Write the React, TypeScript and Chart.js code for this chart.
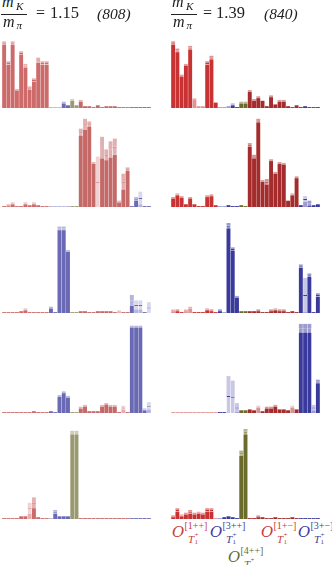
import React, { useEffect, useRef } from "react";
import { Chart, registerables } from "chart.js";
Chart.register(...registerables);

// operator groups of the T1+ basis
const operatorGroups = ["1++", "3++", "4++", "1+-", "3+-"];
const groupSizes = [11, 5, 2, 12, 5];
const categories: string[] = [];
const groupOf: number[] = [];
operatorGroups.forEach((g, gi) => {
  for (let i = 0; i < groupSizes[gi]; i++) {
    categories.push(`${g} #${i + 1}`);
    groupOf.push(gi);
  }
});

// overlap values (0-100 scale), errors and faded bars, per state (row) and ensemble
const L1 = [72,50,72,20,61,47,22,31,53,50,50, 1,1,1,6,3, 9,3, 8,2,2,1,3,1,2,2,2,1,1,1, 1,1,1,1,1];
const L1e = [2,2,2,1,2,2,2,2,3,2,2, 0,0,0,1,0, 1,0, 1,0,0,0,0,0,0,0,0,0,0,0, 0,0,0,0,0];
const L1f: number[] = [11,12,13];
const R1 = [72,64,36,48,67,10,2,2,50,56,6, 1,1,2,4,1, 6,6, 19,9,12,8,2,13,4,8,8,2,1,3, 1,2,1,1,1];
const R1e = [2,2,1,1,2,1,0,0,2,2,0, 0,0,0,1,0, 1,1, 1,1,1,0,0,1,0,1,1,0,0,0, 0,0,0,0,0];
const R1f = [5,6,7,11,12,13];

const L2 = [1,2,4,1,1,4,2,4,2,1,1, 1,1,1,1,1, 1,1, 83,92,92,49,28,66,58,64,67,6,28,42, 1,9,10,1,1];
const L2e = [0,1,1,0,0,1,0,1,0,0,0, 0,0,0,0,0, 0,0, 4,6,3,1,28,12,6,9,9,1,9,2, 0,2,7,0,0];
const L2f = [11,12,13,14,15,22,32];
const R2 = [10,14,11,3,10,3,1,1,12,13,2, 1,1,2,1,1, 2,1, 69,56,96,29,28,52,38,49,48,7,14,33, 2,9,4,2,3];
const R2e = [1,1,1,0,1,0,0,0,1,1,0, 0,0,0,0,0, 0,0, 2,2,2,1,3,1,1,1,1,0,1,1, 0,3,3,0,0];
const R2f = [11,12,31];

const L3 = [1,1,1,1,2,4,1,1,1,1,1, 6,1,94,94,69, 1,1, 2,2,1,1,2,2,2,2,1,2,1,1, 14,9,9,1,6];
const L3e = [0,0,0,0,0,1,0,0,0,0,0, 1,0,2,2,1, 0,0, 0,0,0,0,0,0,0,0,0,1,0,0, 6,5,5,0,6];
const L3f = [27,31,32,34];
const R3 = [3,3,1,3,6,1,1,1,4,3,1, 3,1,97,71,18, 2,2, 2,2,3,1,1,3,4,3,3,1,2,1, 52,20,42,1,20];
const R3e = [1,1,0,1,1,0,0,0,1,1,0, 1,0,3,2,1, 0,0, 0,0,1,0,0,1,1,1,1,0,0,0, 2,19,2,0,2];
const R3f = [0,3,4,12,31];

const L4 = [1,1,1,1,1,1,1,2,1,1,1, 2,1,19,23,18, 1,1, 6,8,2,2,2,8,10,8,8,1,6,1, 96,96,96,4,8];
const L4e = [0,0,0,0,0,0,0,0,0,0,0, 0,0,1,1,1, 0,0, 1,1,0,0,0,1,1,1,1,0,2,0, 1,1,1,1,4];
const L4f = [28,34];
const R4 = [1,1,1,1,1,1,1,1,1,1,1, 1,1,19,18,6, 3,3, 4,3,7,2,6,6,8,4,4,3,7,4, 94,94,94,6,35];
const R4e = [0,0,0,0,0,0,0,0,0,0,0, 0,0,22,18,5, 0,0, 0,0,1,0,1,1,1,0,0,0,1,0, 5,5,5,3,2];
const R4f = [0,1,2,3,4,5,6,7,8,9,10,13,14,15,20,28,33];

const L5 = [1,1,1,1,3,3,12,18,2,1,1, 1,8,3,3,3, 96,96, 1,1,1,1,1,1,1,1,1,1,1,1, 1,1,1,1,1];
const L5e = [0,0,0,0,0,0,6,6,0,0,0, 0,2,0,0,0, 2,2, 0,0,0,0,0,0,0,0,0,0,0,0, 0,0,0,0,0];
const L5f = [6,11];
const R5 = [3,10,4,6,8,6,7,6,10,10,1, 1,2,3,2,1, 73,97, 1,1,3,2,1,1,2,1,1,1,2,1, 1,1,1,1,1];
const R5e = [1,2,1,1,2,1,1,1,2,2,0, 0,0,0,0,0, 3,3, 0,0,1,0,0,0,0,0,0,0,0,0, 0,0,0,0,0];
const R5f = [10,11];

type Palette = { solid: string[]; light: string[]; lighter: string[] };
const pal808: Palette = {
  solid: ["#cd6a6a", "#6a6ab4", "#9a9a72", "#c46868", "#6a6ab4"],
  light: ["#e6b0b0", "#b4b4dc", "#cdcdb4", "#e2b0b0", "#b4b4dc"],
  lighter: ["#f2d4d4", "#d8d8ee", "#e4e4d6", "#f0d2d2", "#d8d8ee"],
};
const pal840: Palette = {
  solid: ["#c83232", "#3a3a9c", "#6b6b2c", "#a52c2c", "#3a3a9c"],
  light: ["#e09494", "#9c9cd0", "#b4b48c", "#d49494", "#9c9cd0"],
  lighter: ["#f0c4c4", "#c8c8e6", "#d8d8bc", "#ecc4c4", "#c8c8e6"],
};

const PW = 149;
const PH = 90;

function Panel(props: { x: number; base: number; values: number[]; errors: number[]; faded: number[]; palette: Palette }) {
  const ref = useRef<HTMLCanvasElement>(null);
  useEffect(() => {
    const { values, errors, faded, palette } = props;
    const isF = (i: number) => faded.includes(i);
    const baseData = values.map((v, i) => Math.max(v - errors[i], 0));
    const lowData = values.map((v, i) => Math.min(errors[i], v));
    const highData = errors.slice();
    const solidC = values.map((_, i) => palette.solid[groupOf[i]]);
    const baseC = values.map((_, i) => (isF(i) ? palette.light[groupOf[i]] : palette.solid[groupOf[i]]));
    const bandC = values.map((_, i) => (isF(i) ? palette.lighter[groupOf[i]] : palette.light[groupOf[i]]));
    const chart = new Chart(ref.current!, {
      type: "bar",
      data: {
        labels: categories,
        datasets: [
          { data: baseData, backgroundColor: baseC, borderWidth: 0 },
          {
            data: lowData,
            backgroundColor: bandC,
            borderColor: solidC,
            borderWidth: { top: 1, left: 0, right: 0, bottom: 0 },
            borderSkipped: false,
          },
          { data: highData, backgroundColor: bandC, borderWidth: 0 },
        ],
      },
      options: {
        animation: false,
        responsive: false,
        devicePixelRatio: 1,
        events: [],
        layout: { padding: 0 },
        plugins: { legend: { display: false }, tooltip: { enabled: false } },
        datasets: { bar: { categoryPercentage: 1, barPercentage: 0.92 } },
        scales: {
          x: { display: false, stacked: true },
          y: { display: false, stacked: true, min: 0, max: 100 },
        },
      },
    } as any);
    return () => chart.destroy();
  }, []);
  return (
    <canvas
      ref={ref}
      width={PW}
      height={PH}
      style={{ position: "absolute", left: props.x, top: props.base - PH, width: PW, height: PH }}
    />
  );
}

const SERIF = '"Liberation Serif", "DejaVu Serif", serif';

function Txt(props: { x: number; b: number; s: number; it?: boolean; c?: string; f?: string; children: React.ReactNode }) {
  return (
    <div
      style={{
        position: "absolute",
        left: props.x,
        top: props.b - 0.8375 * props.s,
        fontSize: props.s,
        lineHeight: 1,
        fontFamily: props.f || SERIF,
        fontStyle: props.it ? "italic" : "normal",
        color: props.c || "#222",
        whiteSpace: "nowrap",
      }}
    >
      {props.children}
    </div>
  );
}

function Title(props: { x: number; ratio: string; ens: string; eqX: number; numX: number; ensX: number }) {
  const x = props.x;
  return (
    <>
      <Txt x={x + 1} b={7.5} s={16} it>m</Txt>
      <Txt x={x + 15} b={10} s={11} it>K</Txt>
      <div style={{ position: "absolute", left: x, top: 14, width: 26, height: 1, background: "#222" }} />
      <Txt x={x + 2} b={27.5} s={16} it>m</Txt>
      <Txt x={x + 15.5} b={29.5} s={11} it>π</Txt>
      <Txt x={props.eqX} b={18.5} s={16}>=</Txt>
      <Txt x={props.numX} b={18.5} s={16.5}>{props.ratio}</Txt>
      <Txt x={props.ensX} b={18.5} s={15.5} it>{props.ens}</Txt>
    </>
  );
}

function OpLabel(props: { x: number; b: number; c: string; jpc: string }) {
  const { x, b, c } = props;
  return (
    <>
      <Txt x={x} b={b} s={15} it c={c} f='"DejaVu Serif", serif'>O</Txt>
      <Txt x={x + 12.5} b={b - 9} s={10} c={c}>{props.jpc}</Txt>
      <Txt x={x + 16} b={b + 5} s={11} it c={c}>T</Txt>
      <Txt x={x + 22.5} b={b + 7} s={7} c={c}>1</Txt>
      <Txt x={x + 22.5} b={b - 0.5} s={7} c={c}>+</Txt>
    </>
  );
}

const bases = [108, 207, 313, 413, 519];
const LX = 2;
const RX = 171;

export default function App() {
  const left = [
    [L1, L1e, L1f],
    [L2, L2e, L2f],
    [L3, L3e, L3f],
    [L4, L4e, L4f],
    [L5, L5e, L5f],
  ] as const;
  const right = [
    [R1, R1e, R1f],
    [R2, R2e, R2f],
    [R3, R3e, R3f],
    [R4, R4e, R4f],
    [R5, R5e, R5f],
  ] as const;
  return (
    <div style={{ position: "absolute", left: 0, top: 0, width: 332, height: 565, overflow: "hidden", background: "#fff" }}>
      {left.map((p, i) => (
        <Panel key={"l" + i} x={LX} base={bases[i]} values={p[0] as number[]} errors={p[1] as number[]} faded={p[2] as number[]} palette={pal808} />
      ))}
      {right.map((p, i) => (
        <Panel key={"r" + i} x={RX} base={bases[i]} values={p[0] as number[]} errors={p[1] as number[]} faded={p[2] as number[]} palette={pal840} />
      ))}
      <Title x={1} ratio="1.15" ens="(808)" eqX={36} numX={50} ensX={97} />
      <Title x={171} ratio="1.39" ens="(840)" eqX={203} numX={216} ensX={264} />
      <OpLabel x={172} b={538} c="#c83c3c" jpc="[1++]" />
      <OpLabel x={210} b={538} c="#3c3ca0" jpc="[3++]" />
      <OpLabel x={228} b={563} c="#6b6b30" jpc="[4++]" />
      <OpLabel x={261} b={538} c="#c83c3c" jpc="[1+−]" />
      <OpLabel x={298} b={538} c="#3c3ca0" jpc="[3+−]" />
    </div>
  );
}
